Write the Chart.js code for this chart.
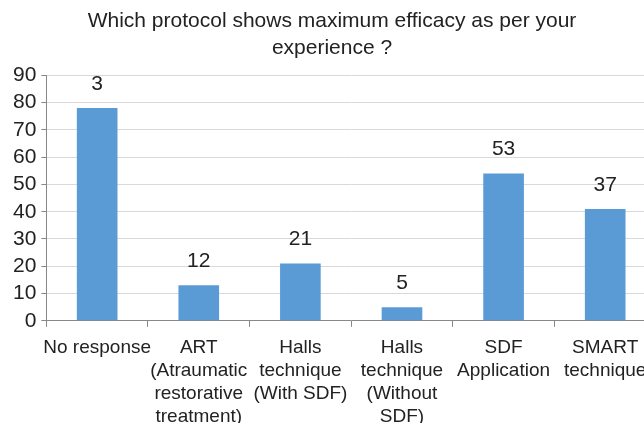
<!DOCTYPE html>
<html>
<head>
<meta charset="utf-8">
<script src="https://cdn.jsdelivr.net/npm/chart.js@4/dist/chart.umd.min.js"></script>
<style>
  html, body { margin: 0; padding: 0; background: #fff; overflow: hidden; }
  #wrap { position: relative; width: 671px; height: 438px; }
</style>
</head>
<body>
<div id="wrap"><canvas id="myChart"></canvas></div>
<script>
// Data
const categories = [
  ["No response"],
  ["ART", "(Atraumatic", "restorative", "treatment)"],
  ["Halls", "technique", "(With SDF)"],
  ["Halls", "technique", "(Without", "SDF)"],
  ["SDF", "Application"],
  ["SMART", "technique"],
];
const barValues = [78, 13, 21, 5, 54, 41];
const labelValues = [3, 12, 21, 5, 53, 37];
const yTicks = [0, 10, 20, 30, 40, 50, 60, 70, 80, 90];

const FONT = "'Liberation Sans', Arial, sans-serif";

// labels drawn above each bar
const barLabels = {
  id: "barLabels",
  afterDatasetsDraw(chart) {
    const { ctx } = chart;
    const meta = chart.getDatasetMeta(0);
    ctx.save();
    ctx.font = "21px " + FONT;
    ctx.fillStyle = "#222";
    ctx.textAlign = "center";
    ctx.textBaseline = "middle";
    meta.data.forEach((bar, i) => {
      ctx.fillText(String(labelValues[i]), bar.x, bar.y - 24);
    });
    ctx.restore();
  },
};

const ctx = document.getElementById("myChart");
new Chart(ctx, {
  type: "bar",
  data: {
    labels: categories,
    datasets: [
      {
        data: barValues,
        backgroundColor: "#5b9bd5",
        borderWidth: 0,
        categoryPercentage: 1,
        barPercentage: 0.4,
      },
    ],
  },
  options: {
    responsive: true,
    maintainAspectRatio: false,
    animation: false,
    layout: { padding: { left: 8, right: 15, top: 8, bottom: 0 } },
    plugins: {
      legend: { display: false },
      tooltip: { enabled: false },
      title: {
        display: true,
        text: ["Which protocol shows maximum efficacy as per your", "experience ?"],
        color: "#222",
        font: { family: FONT, size: 21, weight: "normal", lineHeight: 1.27 },
        padding: { top: 0, bottom: 14 },
      },
    },
    scales: {
      x: {
        grid: {
          offset: true,
          drawOnChartArea: false,
          drawTicks: true,
          tickLength: 6,
          color: "#888",
        },
        border: { color: "#888" },
        ticks: {
          color: "#222",
          maxRotation: 0,
          autoSkip: false,
          padding: 10,
          font: { family: FONT, size: 19, lineHeight: 1.2 },
        },
      },
      y: {
        min: yTicks[0],
        max: yTicks[yTicks.length - 1],
        afterBuildTicks: (axis) => {
          axis.ticks = yTicks.map((v) => ({ value: v }));
        },
        grid: { color: "#d9d9d9", tickLength: 5, tickColor: "#888" },
        border: { color: "#888" },
        ticks: {
          color: "#222",
          autoSkip: false,
          padding: 5,
          font: { family: FONT, size: 21 },
        },
      },
    },
  },
  plugins: [barLabels],
});
</script>
</body>
</html>
